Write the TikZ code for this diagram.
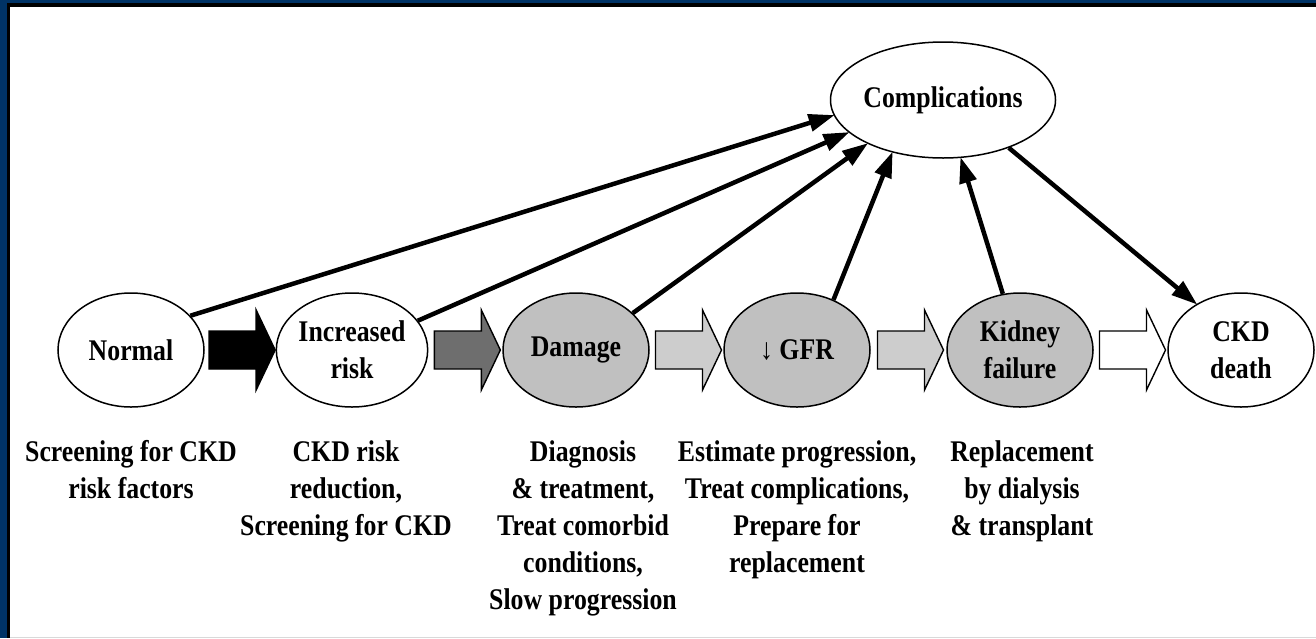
\documentclass[tikz,border=0pt]{standalone}
\usepackage{fontspec}
\setmainfont{Liberation Serif}[FakeStretch=0.86]
\usetikzlibrary{arrows.meta,shapes.geometric,calc}
\definecolor{navy}{RGB}{0,51,102}
\definecolor{ovalgray}{RGB}{192,192,192}
\definecolor{arrowdark}{RGB}{110,110,110}
\definecolor{arrowlight}{RGB}{205,205,205}
\newcommand\stagefont{\fontsize{30}{37}\selectfont\bfseries}
\begin{document}
\begin{tikzpicture}[x=1pt,y=-1pt,
  stage/.style={ellipse, draw, line width=1.5pt, minimum width=146pt, minimum height=114pt, inner sep=0pt, align=center, font=\stagefont, fill=white},
  grayst/.style={stage, fill=ovalgray},
  note/.style={anchor=north, align=center, font=\stagefont, inner sep=0pt},
  conn/.style={line width=4.5pt, -{Triangle[length=26pt,width=17pt]}, shorten >=-1pt},
  blockarrow/.style={line width=1.4pt, line join=miter},
]
\useasboundingbox (0,0) rectangle (1316,638);
% frame
\fill[white] (0,0) rectangle (1316,638);
\fill[navy] (0,0) rectangle (1316,3);
\fill[navy] (0,0) rectangle (7,638);
\fill[black] (7,3) rectangle (1316,7);
\fill[black] (7,3) rectangle (10,638);
\draw[gray!30, line width=1pt] (10,637.5) -- (1316,637.5);

% stages
\node[stage]  (normal) at (131,350) {Normal};
\node[stage]  (incr)   at (352,350) {Increased\\risk};
\node[grayst] (damage) at (576,350) {Damage};
\node[grayst] (gfr)    at (797,350) {↓ GFR};
\node[grayst] (kf)     at (1020,350) {Kidney\\failure};
\node[stage]  (death)  at (1241,350) {CKD\\death};
\node[stage, minimum width=190pt, minimum height=116pt] (comp) at (943,100) {Complications};

% block arrows
\foreach \a/\b/\c in {normal/incr/black, incr/damage/arrowdark, damage/gfr/arrowlight, gfr/kf/arrowlight, kf/death/white}{
  \draw[blockarrow, fill=\c, shift={($(\a.east)!0.5!(\b.west)+(2,0)$)}]
    (-33,-19) -- (14,-19) -- (14,-40) -- (33,0) -- (14,40) -- (14,19) -- (-33,19) -- cycle;
}

% connectors to complications
\draw[conn] (normal.30) -- (comp.188);
\draw[conn] (incr.24)   -- (comp.199);
\draw[conn] (damage.33) -- (comp.210);
\draw[conn] (gfr.54)    -- (comp.226);
\draw[conn] (kf.107)    -- (comp.287);
\draw[conn] (comp.324)  -- (death.134);

% notes
\node[note] (t1) at (131,440) {Screening for CKD\\risk factors};
\node[note] (t2) at (346,440) {CKD risk\\reduction,\\Screening for CKD};
\node[note] (t3) at (583,440) {Diagnosis\\\& treatment,\\Treat comorbid\\conditions,\\Slow progression};
\node[note] (t4) at (797,440) {Estimate progression,\\Treat complications,\\Prepare for\\replacement};
\node[note] (t5) at (1022,440) {Replacement\\by dialysis\\\& transplant};
\end{tikzpicture}
\end{document}
